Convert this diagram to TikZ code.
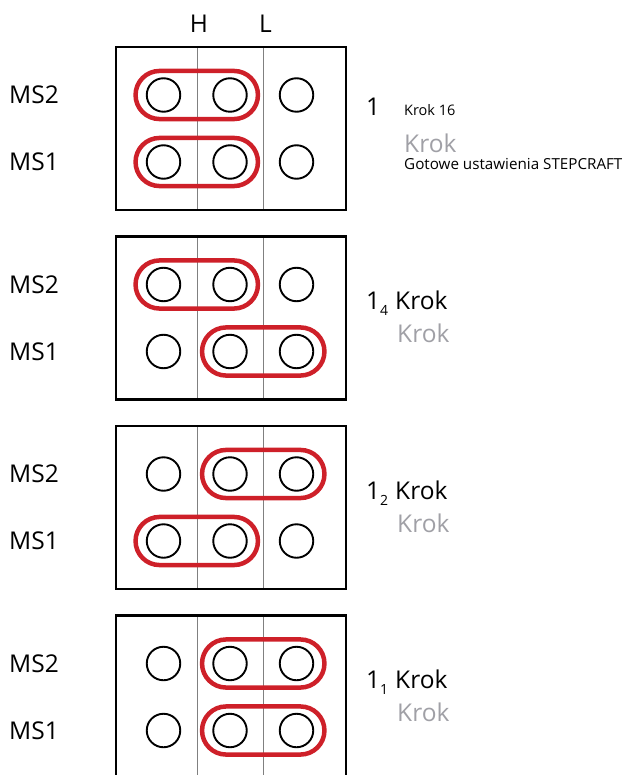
\documentclass[tikz,border=0pt]{standalone}
\usepackage{fontspec}
\setmainfont{Open Sans}
\usetikzlibrary{fit,positioning}
\definecolor{jred}{RGB}{206,32,41}
\definecolor{kgray}{RGB}{160,160,166}

\begin{document}
\begin{tikzpicture}[x=1pt,y=-1pt,
  frame/.style={draw,line width=2.8pt},
  colsep/.style={draw=gray,line width=0.8pt},
  pin/.style={circle,draw,line width=1.9pt,minimum size=33.5pt,inner sep=0pt,outer sep=0pt},
  jumper/.style={draw=jred,line width=4.5pt,rounded corners=24pt,inner xsep=11.2pt,inner ysep=7.3pt},
  lbl/.style={font=\fontsize{24.5}{24.5}\selectfont,inner sep=0pt},
  small/.style={font=\fontsize{14.5}{14.5}\selectfont,inner sep=0pt,anchor=base west},
  note/.style={lbl,text=kgray,anchor=base west}]

\useasboundingbox (0,0) rectangle (629,775);

% column heads
\node[lbl] (hcol) at (199,24) {H};
\node[lbl] (lcol) at (265.5,24) {L};

% the four jumper settings
\foreach \b/\ja/\jb/\sub in {1/1/1/0,2/1/2/4,3/2/1/2,4/2/2/1} {
  \pgfmathsetmacro\t{47+189.5*(\b-1)}
  \pgfmathtruncatemacro\ka{\ja+1}
  \pgfmathtruncatemacro\kb{\jb+1}
  \draw[colsep] (197,\t) -- (197,\t+163);
  \draw[colsep] (263,\t) -- (263,\t+163);
  \draw[frame] (116,\t) rectangle (346,\t+163);
  \foreach \r in {1,2}
    \foreach \c in {1,2,3}
      \node[pin] (p\b\r\c) at ({163.5+66.5*(\c-1)},{\t+48+67*(\r-1)}) {};
  \node[jumper,fit=(p\b1\ja)(p\b1\ka)] (jtop\b) {};
  \node[jumper,fit=(p\b2\jb)(p\b2\kb)] (jbot\b) {};
  \node[lbl,anchor=west] (mstwo\b) at (9,{\t+48}) {MS2};
  \node[lbl,anchor=west] (msone\b) at (9,{\t+115}) {MS1};
  \ifnum\b>1
    \node[lbl,anchor=base west] (num\b) at (366,{\t+73})
      {1\raisebox{-6pt}{\fontsize{14}{14}\selectfont\sub}};
    \node[lbl,anchor=base west] (krok\b) at (395,{\t+73}) {Krok};
    \node[note] (grey\b) at (397,{\t+106}) {Krok};
  \fi
}

% full step text
\node[lbl,anchor=base west] (num1) at (366,116) {1};
\node[small] (krok1) at (404,116) {Krok 16};
\node[note] (grey1) at (404,153) {Krok};
\node[small,font=\fontsize{15.2}{15.2}\selectfont] (preset) at (404,170) {Gotowe ustawienia STEPCRAFT};

\end{tikzpicture}
\end{document}
